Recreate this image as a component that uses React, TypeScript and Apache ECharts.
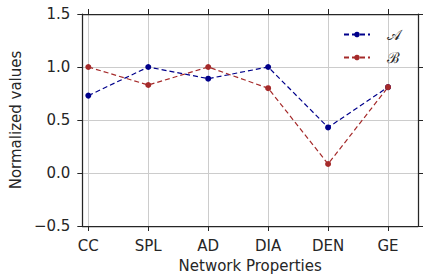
import React, { useEffect, useRef } from "react";
import * as echarts from "echarts";

const categories = ["CC", "SPL", "AD", "DIA", "DEN", "GE"];
const seriesA = [0.73, 1.0, 0.89, 1.0, 0.43, 0.81];
const seriesB = [1.0, 0.83, 1.0, 0.8, 0.085, 0.81];
const seriesNames = ["𝒜", "ℬ"];
const yTicks = [-0.5, 0, 0.5, 1.0, 1.5];

const TEXT = "#262626";
const FONT = "DejaVu Sans";
const FS = 15;
const xPositions = categories.map((_, i) => i);

export default function App() {
  const ref = useRef<HTMLDivElement>(null);
  useEffect(() => {
    if (!ref.current) return;
    const chart = echarts.init(ref.current, undefined, { renderer: "svg" });
    const fmtY = (v: number) => v.toFixed(1).replace("-", "\u2212");
    const frameLine = { show: true, onZero: false, lineStyle: { color: TEXT, width: 1.25 } };
    const tick = { show: true, length: 5, lineStyle: { color: TEXT, width: 1 } };
    chart.setOption({
      animation: false,
      backgroundColor: "#ffffff",
      textStyle: { fontFamily: FONT },
      grid: { left: 75, right: 6, top: 14, bottom: 54, containLabel: false },
      legend: {
        orient: "vertical",
        right: 18,
        top: 22,
        itemWidth: 26,
        itemHeight: 7,
        itemGap: 8,
        textStyle: { fontFamily: "DejaVu Serif", fontSize: 15, color: TEXT, padding: [0, 0, 0, 12] },
        data: seriesNames,
      },
      xAxis: [
        {
          type: "value",
          min: -0.1,
          max: 5.5,
          position: "bottom",
          name: "Network Properties",
          nameLocation: "middle",
          nameGap: 32,
          nameTextStyle: { fontSize: FS, color: TEXT, fontFamily: FONT },
          axisLine: frameLine,
          axisTick: { ...tick, customValues: xPositions },
          axisLabel: {
            customValues: xPositions,
            fontSize: FS,
            color: TEXT,
            margin: 12,
            fontFamily: FONT,
            formatter: (v: number) => categories[Math.round(v)] ?? "",
          },
          splitLine: { show: true, lineStyle: { color: "#cccccc", width: 1 } },
        },
        {
          type: "value",
          min: -0.1,
          max: 5.5,
          position: "top",
          axisLine: frameLine,
          axisTick: { ...tick, customValues: xPositions },
          axisLabel: { show: false, customValues: xPositions },
          splitLine: { show: false },
        },
      ],
      yAxis: [
        {
          type: "value",
          min: -0.5,
          max: 1.5,
          interval: 0.5,
          position: "left",
          name: "Normalized values",
          nameLocation: "middle",
          nameGap: 57,
          nameTextStyle: { fontSize: FS, color: TEXT, fontFamily: FONT },
          axisLine: frameLine,
          axisTick: { ...tick, customValues: yTicks },
          axisLabel: { fontSize: FS, color: TEXT, margin: 12, fontFamily: FONT, formatter: fmtY, customValues: yTicks },
          splitLine: { show: true, lineStyle: { color: "#cccccc", width: 1 } },
        },
        {
          type: "value",
          min: -0.5,
          max: 1.5,
          interval: 0.5,
          position: "right",
          axisLine: frameLine,
          axisTick: { ...tick },
          axisLabel: { show: false },
          splitLine: { show: false },
        },
      ],
      series: [
        {
          name: seriesNames[0],
          type: "line",
          data: seriesA.map((v, i) => [xPositions[i], v]),
          symbol: "circle",
          symbolSize: 6,
          itemStyle: { color: "#00008b" },
          lineStyle: { color: "#00008b", width: 1.2, type: [5, 3] },
        },
        {
          name: seriesNames[1],
          type: "line",
          data: seriesB.map((v, i) => [xPositions[i], v]),
          symbol: "circle",
          symbolSize: 6,
          itemStyle: { color: "#a52a2a" },
          lineStyle: { color: "#a52a2a", width: 1.2, type: [5, 3] },
        },
      ],
    });
    return () => chart.dispose();
  }, []);
  return (
    <div
      ref={ref}
      style={{ width: 424, height: 280, position: "fixed", left: 0, top: 0, background: "#fff" }}
    />
  );
}
